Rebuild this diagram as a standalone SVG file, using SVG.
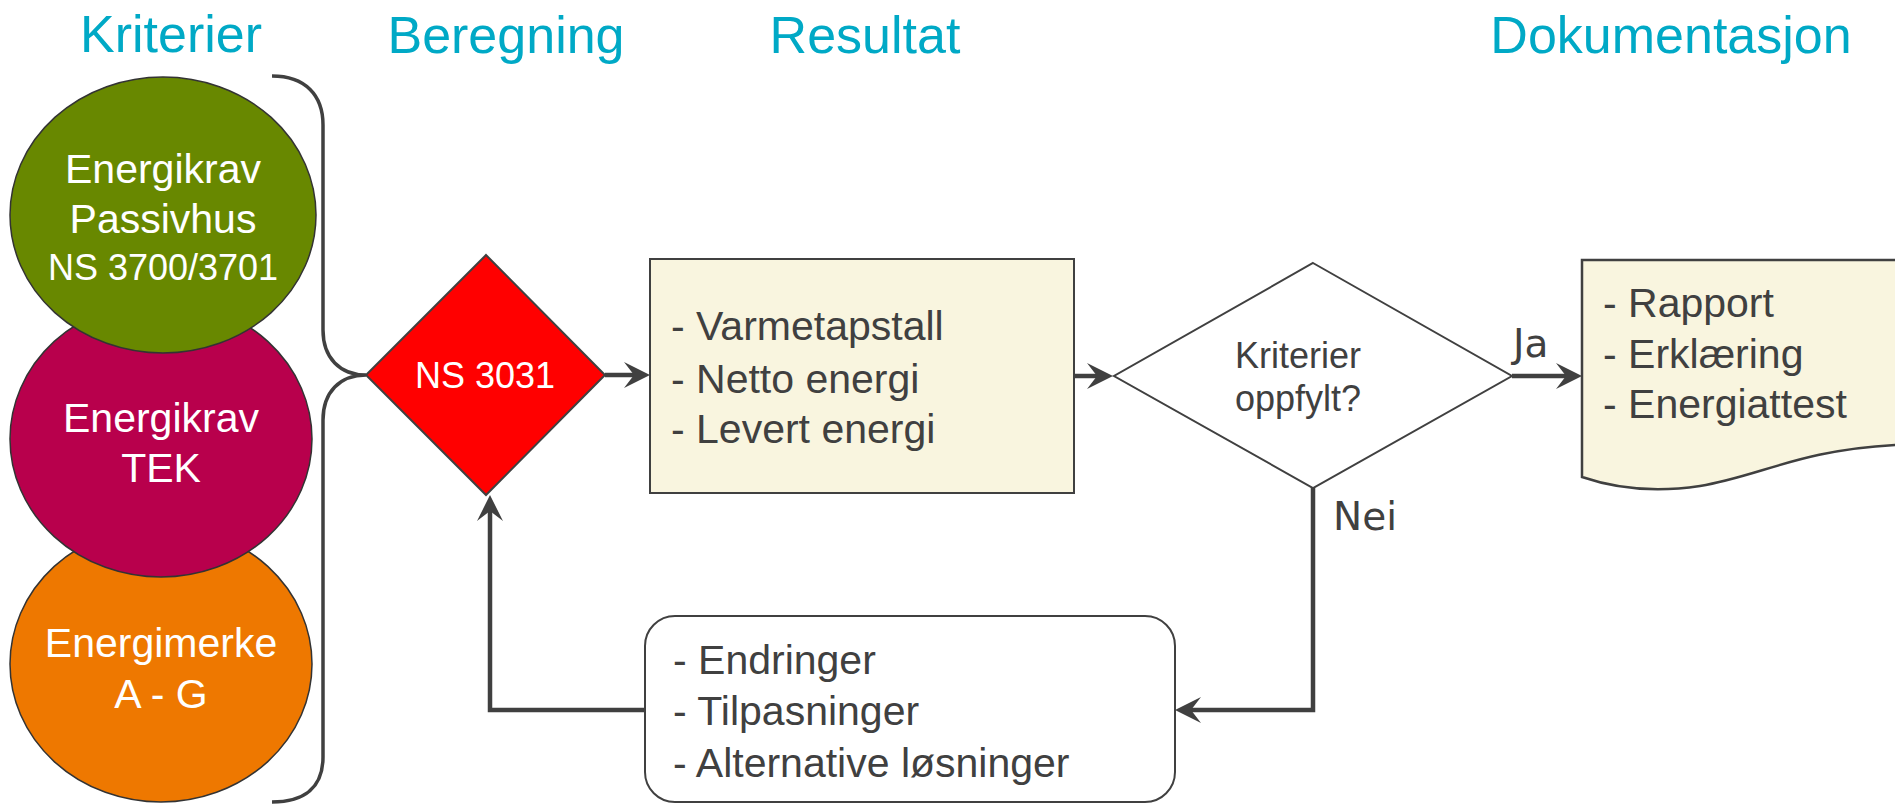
<svg xmlns="http://www.w3.org/2000/svg" width="1895" height="804" viewBox="0 0 1895 804">
<style>
.head{font-family:"Liberation Sans",Arial,sans-serif;font-size:52px;fill:#00a9c6;text-anchor:middle}
.ctext{font-family:"Liberation Sans",Arial,sans-serif;font-size:41px;fill:#ffffff;text-anchor:middle}
.btext{font-family:"Liberation Sans",Arial,sans-serif;font-size:41px;fill:#404040}
.dtext{font-family:"Liberation Sans",Arial,sans-serif;font-size:36px;fill:#404040;text-anchor:middle}
.lbl{font-family:"DejaVu Sans",sans-serif;font-size:39px;fill:#404040}
.circ{stroke:#333333;stroke-width:1.5}
.conn{fill:none;stroke:#404040;stroke-width:4.5}
.brace{fill:none;stroke:#404040;stroke-width:3.5}
</style>
<defs>
<marker id="arr" viewBox="-27 -14 28 28" markerWidth="28" markerHeight="28" refX="-10" refY="0" orient="auto" markerUnits="userSpaceOnUse">
<path d="M0,0 L-26,-13 L-16,0 L-26,13 Z" fill="#404040"/>
</marker>
</defs>
<g id="headings">
<text class="head" x="171" y="52">Kriterier</text>
<text class="head" x="506" y="53">Beregning</text>
<text class="head" x="865" y="53">Resultat</text>
<text class="head" x="1671" y="53">Dokumentasjon</text>
</g>
<g id="energimerke">
<ellipse class="circ" cx="161" cy="664" rx="151" ry="138" fill="#ee7800"/>
<text class="ctext" x="161" y="657">Energimerke</text>
<text class="ctext" x="161" y="708">A - G</text>
</g>
<g id="tek">
<ellipse class="circ" cx="161" cy="439" rx="151" ry="138" fill="#b8004c"/>
<text class="ctext" x="161" y="432">Energikrav</text>
<text class="ctext" x="161" y="482">TEK</text>
</g>
<g id="passivhus">
<ellipse class="circ" cx="163" cy="215" rx="153" ry="138" fill="#688800"/>
<text class="ctext" x="163" y="183">Energikrav</text>
<text class="ctext" x="163" y="233">Passivhus</text>
<text class="ctext" x="163" y="280" style="font-size:36px">NS 3700/3701</text>
</g>
<g id="brace">
<path class="brace" d="M272,76 C305,76 323,95 323,125 L323,330 C323,358 340,375 366,375 C340,375 323,392 323,420 L323,757 C323,787 305,802 272,802"/>
</g>
<g id="ns3031">
<polygon points="486,255 605,375 486,495 366,375" fill="#ff0000" stroke="#404040" stroke-width="2"/>
<text class="ctext" x="485" y="388" style="font-size:36px">NS 3031</text>
</g>
<g id="resultat">
<rect x="650" y="259" width="424" height="234" fill="#f9f5df" stroke="#404040" stroke-width="2"/>
<text class="btext" x="671" y="340">- Varmetapstall</text>
<text class="btext" x="671" y="393">- Netto energi</text>
<text class="btext" x="671" y="443">- Levert energi</text>
</g>
<g id="beslutning">
<polygon points="1313,263 1512,376 1313,488 1114,376" fill="#ffffff" stroke="#404040" stroke-width="2"/>
<text class="dtext" x="1298" y="368">Kriterier</text>
<text class="dtext" x="1298" y="411">oppfylt?</text>
</g>
<g id="dokumentasjon">
<path d="M1582,260 L1900,260 L1900,445 L1895,445 C1800,450 1760,476 1700,486 C1660,492 1620,490 1582,477 Z" fill="#f9f5df" stroke="#404040" stroke-width="2.5"/>
<text class="btext" x="1603" y="317">- Rapport</text>
<text class="btext" x="1603" y="368">- Erklæring</text>
<text class="btext" x="1603" y="418">- Energiattest</text>
</g>
<g id="tiltak">
<rect x="645" y="616" width="530" height="186" rx="30" ry="30" fill="#ffffff" stroke="#404040" stroke-width="2"/>
<text class="btext" x="673" y="674">- Endringer</text>
<text class="btext" x="673" y="725">- Tilpasninger</text>
<text class="btext" x="673" y="777">- Alternative løsninger</text>
</g>
<g id="connectors">
<path class="conn" d="M605,375 L640,375" marker-end="url(#arr)"/>
<path class="conn" d="M1074,376 L1103,376" marker-end="url(#arr)"/>
<path class="conn" d="M1512,376 L1572,376" marker-end="url(#arr)"/>
<path class="conn" d="M1313,488 L1313,710 L1185,710" marker-end="url(#arr)"/>
<path class="conn" d="M645,710 L490,710 L490,505" marker-end="url(#arr)"/>
<text class="lbl" x="1513" y="357">Ja</text>
<text class="lbl" x="1333" y="530">Nei</text>
</g>
</svg>
